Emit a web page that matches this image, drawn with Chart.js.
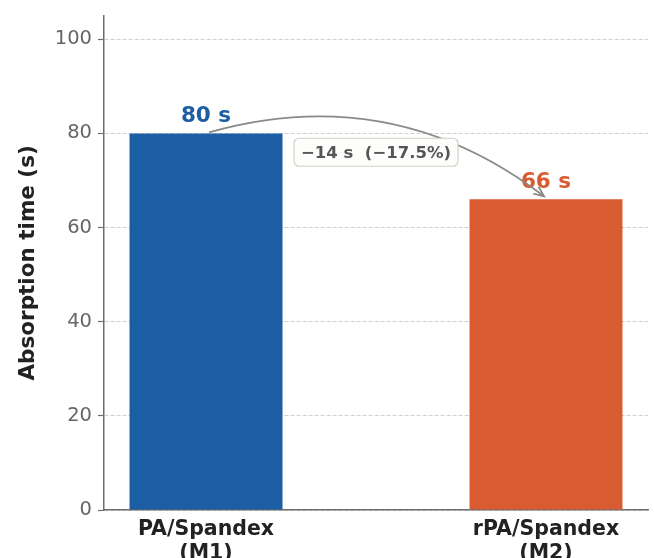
<!DOCTYPE html>
<html>
<head>
<meta charset="utf-8">
<script src="https://cdn.jsdelivr.net/npm/chart.js@4.4.0/dist/chart.umd.min.js"></script>
<style>
  html, body { margin: 0; padding: 0; background: #fff; }
  #wrap { width: 654px; height: 558px; }
</style>
</head>
<body>
<div id="wrap"><canvas id="absChart"></canvas></div>
<script>
// data
const categories = [['PA/Spandex', '(M1)'], ['rPA/Spandex', '(M2)']];
const positions = [0, 1];
const absorptionTime = [80, 66];
const barColors = ['#1b5ea4', '#d95b31'];
const yTicks = [0, 20, 40, 60, 80, 100];
const diffLabel = '\u221214 s  (\u221217.5%)';

const FONT = "'DejaVu Sans', sans-serif";

// value labels, curved arrow and difference box
const annotatePlugin = {
    id: 'annotate',
    afterDatasetsDraw(chart) {
        const ctx = chart.ctx;
        const xs = chart.scales.x, ys = chart.scales.y;

        ctx.save();
        ctx.font = 'bold 21.5px ' + FONT;
        ctx.textAlign = 'center';
        ctx.textBaseline = 'alphabetic';
        absorptionTime.forEach((v, i) => {
            ctx.fillStyle = barColors[i];
            ctx.fillText(v + ' s', xs.getPixelForValue(positions[i]), ys.getPixelForValue(v) - 11);
        });

        // curved arrow from M1 to M2
        const ax = xs.getPixelForValue(positions[0]) + 3, ay = ys.getPixelForValue(absorptionTime[0]) - 1;
        const bx = xs.getPixelForValue(positions[1]) - 2, by = ys.getPixelForValue(absorptionTime[1]) - 3;
        const rad = 0.25;
        const mx = (ax + bx) / 2, my = (ay + by) / 2;
        const cx = mx + rad * (by - ay), cy = my - rad * (bx - ax);
        ctx.strokeStyle = '#8a8a86';
        ctx.lineWidth = 1.8;
        ctx.beginPath();
        ctx.moveTo(ax, ay);
        ctx.quadraticCurveTo(cx, cy, bx, by);
        ctx.stroke();
        const ang = Math.atan2(by - cy, bx - cx);
        const hl = 11, hw = 0.4;
        ctx.beginPath();
        ctx.moveTo(bx - hl * Math.cos(ang - hw), by - hl * Math.sin(ang - hw));
        ctx.lineTo(bx, by);
        ctx.lineTo(bx - hl * Math.cos(ang + hw), by - hl * Math.sin(ang + hw));
        ctx.stroke();

        // difference box
        ctx.font = 'bold 16.5px ' + FONT;
        const tx = xs.getPixelForValue(0.5), ty = ys.getPixelForValue(76);
        const tw = ctx.measureText(diffLabel).width;
        const bw = tw + 14, bh = 28;
        ctx.beginPath();
        ctx.roundRect(tx - bw / 2, ty - bh / 2, bw, bh, 5);
        ctx.fillStyle = '#fdfdfb';
        ctx.fill();
        ctx.strokeStyle = '#d2d0c8';
        ctx.lineWidth = 1.2;
        ctx.stroke();
        ctx.fillStyle = '#555555';
        ctx.textBaseline = 'middle';
        ctx.fillText(diffLabel, tx, ty + 1);
        ctx.restore();
    }
};

new Chart(document.getElementById('absChart'), {
    type: 'bar',
    data: {
        datasets: [{
            data: positions.map((p, i) => ({ x: p, y: absorptionTime[i] })),
            backgroundColor: barColors,
            categoryPercentage: 1,
            barPercentage: 0.45
        }]
    },
    options: {
        responsive: true,
        maintainAspectRatio: false,
        animation: false,
        layout: { padding: { left: 16, right: 6, top: 14, bottom: 0 } },
        plugins: { legend: { display: false }, tooltip: { enabled: false } },
        scales: {
            x: {
                type: 'linear',
                offset: false,
                min: -0.3,
                max: 1.3,
                grid: { display: false },
                border: { display: true, color: '#6e6e6e', width: 1.5 },
                afterBuildTicks: scale => { scale.ticks = positions.map(v => ({ value: v })); },
                afterFit: scale => { scale.height = 48; },
                ticks: {
                    padding: 0,
                    maxRotation: 0,
                    autoSkip: false,
                    color: '#222',
                    font: { family: FONT, size: 20.5, weight: 'bold', lineHeight: 1.17 },
                    callback: v => categories[positions.indexOf(v)] || ''
                }
            },
            y: {
                min: 0,
                max: 105,
                afterBuildTicks: scale => { scale.ticks = yTicks.map(v => ({ value: v })); },
                grid: {
                    color: '#d0d0d0',
                    lineWidth: 1,
                    tickColor: '#6e6e6e',
                    tickLength: 6,
                    tickWidth: 1.2
                },
                border: { display: true, color: '#6e6e6e', width: 1.5, dash: [4, 2] },
                ticks: {
                    color: '#666',
                    padding: 6,
                    font: { family: FONT, size: 19.5, lineHeight: 1.0 }
                },
                title: {
                    display: true,
                    text: 'Absorption time (s)',
                    color: '#222',
                    padding: { top: 0, bottom: 7 },
                    font: { family: FONT, size: 21.5, weight: 'bold' }
                }
            }
        }
    },
    plugins: [annotatePlugin]
});
</script>
</body>
</html>
